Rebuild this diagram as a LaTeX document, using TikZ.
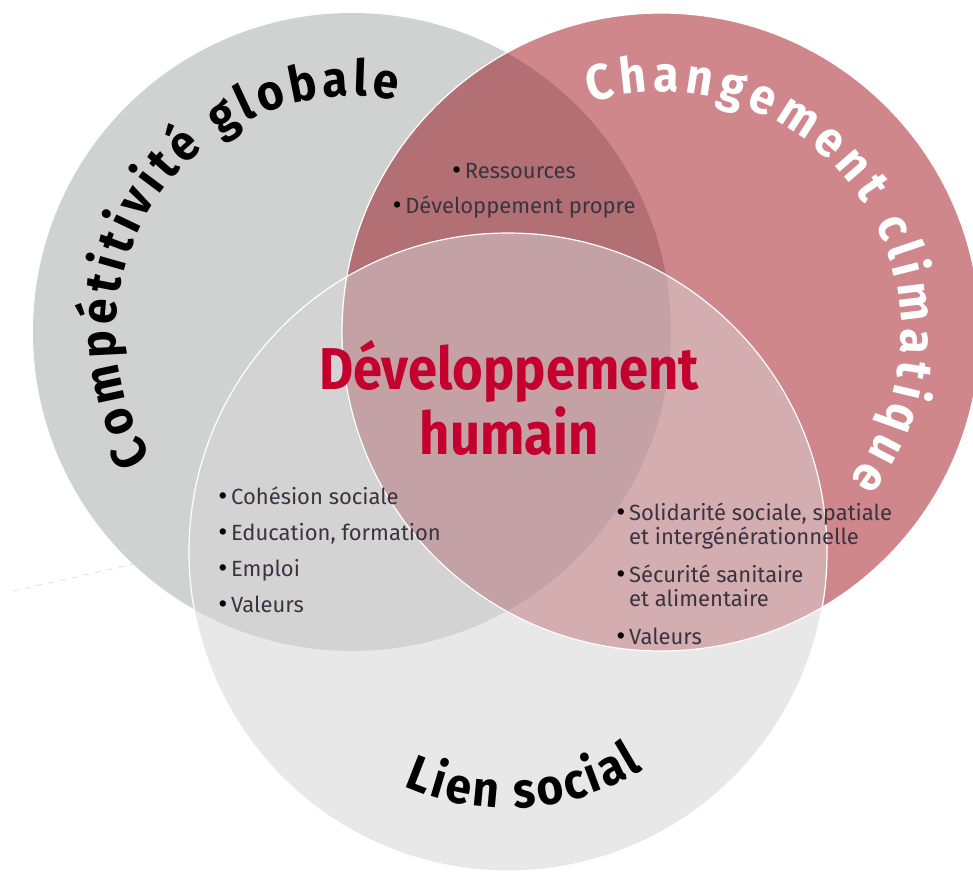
\documentclass[tikz,border=0pt]{standalone}
\usepackage{fontspec}
\setmainfont{Fira Sans}
\newfontfamily\titrefont[FakeStretch=0.89]{Fira Sans}
\newfontfamily\arcfamily[FakeStretch=0.92]{Fira Sans}
\usetikzlibrary{decorations.text}
\definecolor{grisC}{HTML}{D0D1D1}
\definecolor{rougeC}{HTML}{CF878B}
\definecolor{clairC}{HTML}{E8E8E8}
\definecolor{grisRouge}{HTML}{B37074}
\definecolor{grisClair}{HTML}{D3D3D3}
\definecolor{rougeClair}{HTML}{D4ADB1}
\definecolor{centreC}{HTML}{C4A1A4}
\definecolor{titreRouge}{HTML}{C4002F}
\definecolor{puce}{HTML}{3A3340}
\def\R{319}
\def\arcfont{\arcfamily\fontsize{25}{25}\selectfont\bfseries}
\def\pt{\raisebox{-0.6pt}{\fontsize{14}{12}\selectfont\color{black}•}\,}
\tikzset{
  disque/.style={draw=white, line width=0.6},
  liste/.style={text=puce, font=\fontsize{11}{12}\selectfont, inner sep=0pt},
}

\begin{document}
\begin{tikzpicture}[x=0.5pt, y=0.5pt]
		%%%%% cadre %%%%%
		\useasboundingbox (0,0) rectangle (973,-873);
		\clip (0,0) rectangle (973,-873);
		
		\coordinate (cg) at (352,-332);
		\coordinate (cr) at (661,-332);
		\coordinate (cs) at (508,-552);
		
		% trait fin a gauche
		\coordinate (t1) at (13,-591);
		\coordinate (t2) at (134,-564);
		\draw[black!12, dashed, line width=0.4] (t1) -- (t2);
		
		%%%%% disques %%%%%
		\fill[grisC] (cg) circle (\R);
		\fill[rougeC] (cr) circle (\R);
		\fill[clairC] (cs) circle (\R);
		\begin{scope}
			\clip (cg) circle (\R);
			\fill[grisRouge] (cr) circle (\R);
			\fill[grisClair] (cs) circle (\R);
		\end{scope}
		\begin{scope}
			\clip (cr) circle (\R);
			\fill[rougeClair] (cs) circle (\R);
			\clip (cg) circle (\R);
			\fill[centreC] (cs) circle (\R);
		\end{scope}
		\draw[disque] (cr) circle (\R);
		\draw[disque] (cs) circle (\R);
		
		%%%%% titres en arc %%%%%
		\path[decorate, decoration={text along path, text align=fit to path,
			text={|\arcfont\color{black}|Compétitivité globale}}]
			(cg) ++(212:236) arc (212:79:236);
		\path[decorate, decoration={text along path, text align=fit to path,
			text={|\arcfont\color{white}|Changement climatique}}]
			(cr) ++(107:240) arc (107:-38:240);
		\path[decorate, decoration={text along path, text align=fit to path,
			text={|\arcfont\color{black}|Lien social}}]
			(cs) ++(-114:256) arc (-114:-58:256);
		
		%%%%% textes %%%%%
		\node[text=titreRouge, font=\titrefont\fontsize{29.5}{32.5}\selectfont\bfseries, align=center]
			(devhum) at (509,-398) {Développement\\humain};
		
		\node[liste, align=center, anchor=north] (ressources) at (514,-163)
			{\pt Ressources\\[5.5pt]\pt Développement propre};
		\node[liste, align=left, anchor=north west] (cohesion) at (218,-486)
			{\pt Cohésion sociale\\[6pt]\pt Education, formation\\[6pt]\pt Emploi\\[6pt]\pt Valeurs};
		\node[liste, align=left, anchor=north west] (solidarite) at (616,-502)
			{\pt Solidarité sociale, spatiale\\\phantom{\pt}et intergénérationnelle\\[7pt]%
			\pt Sécurité sanitaire\\\phantom{\pt}et alimentaire\\[7pt]\pt Valeurs};
		%%%%% fin %%%%%
	\end{tikzpicture}
\end{document}
